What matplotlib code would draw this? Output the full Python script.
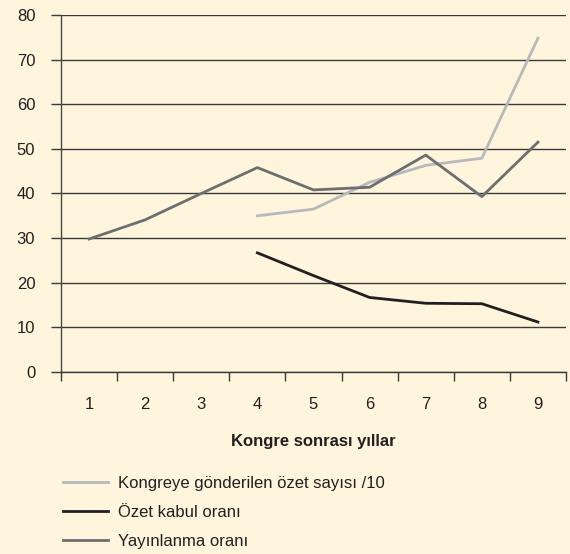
import numpy as np
import matplotlib.pyplot as plt

plt.rcParams['font.family'] = ['Liberation Sans', 'DejaVu Sans']

years = [1, 2, 3, 4, 5, 6, 7, 8, 9]
ozet_sayisi = [None, None, None, 35.0, 36.5, 42.5, 46.3, 47.9, 74.8]
kabul_orani = [None, None, None, 26.7, 21.6, 16.7, 15.4, 15.3, 11.2]
yayin_orani = [29.8, 34.1, 40.0, 45.8, 40.8, 41.4, 48.6, 39.3, 51.5]

labels = ["Kongreye gönderilen özet sayısı /10", "Özet kabul oranı", "Yayınlanma oranı"]
colors = ['#b7b9bd', '#231f20', '#6d6e70']

bg = '#fef5dc'
fs = 12
fig = plt.figure(figsize=(5.7, 5.54), dpi=100, facecolor=bg)
ax = fig.add_axes([0.107, 0.3285, 0.886, 0.6445], facecolor=bg)

def to_arr(v):
    return np.array([np.nan if x is None else x for x in v], dtype=float)

ax.plot(years, to_arr(ozet_sayisi), color=colors[0], lw=2.0, label=labels[0], zorder=3)
ax.plot(years, to_arr(kabul_orani), color=colors[1], lw=2.0, label=labels[1], zorder=4)
ax.plot(years, to_arr(yayin_orani), color=colors[2], lw=2.0, label=labels[2], zorder=3)

ax.set_xlim(0.5, 9.5)
ax.set_ylim(0, 80)
ax.set_yticks(range(0, 81, 10))
ax.set_xticks(years)
ax.set_xticks(np.arange(0.5, 9.6, 1), minor=True)
ax.grid(axis='y', color='#3a3a3a', lw=1.0, zorder=1)
ax.set_axisbelow(True)

for s in ['top', 'right']:
    ax.spines[s].set_visible(False)
ax.spines['left'].set_color('#4a4a4a')
ax.spines['bottom'].set_color('#3a3a3a')
ax.spines['left'].set_linewidth(1.0)
ax.spines['bottom'].set_linewidth(1.0)

ax.tick_params(axis='y', length=7.5, width=1.0, color='#3a3a3a', pad=11,
               labelsize=fs, labelcolor='#231f20')
ax.tick_params(axis='x', which='major', length=0, pad=18, labelsize=fs,
               labelcolor='#231f20')
ax.tick_params(axis='x', which='minor', length=6.5, width=1.0, color='#3a3a3a')

ax.set_xlabel('Kongre sonrası yıllar', fontsize=fs, fontweight='bold',
              color='#231f20', labelpad=16)

fig.legend(loc='upper left', bbox_to_anchor=(0.088, 0.165), frameon=False,
           fontsize=fs, handlelength=2.7, handletextpad=0.55, labelspacing=0.85,
           labelcolor='#231f20', borderpad=0.3)

fig.savefig('out.png', dpi=100, facecolor=bg)
